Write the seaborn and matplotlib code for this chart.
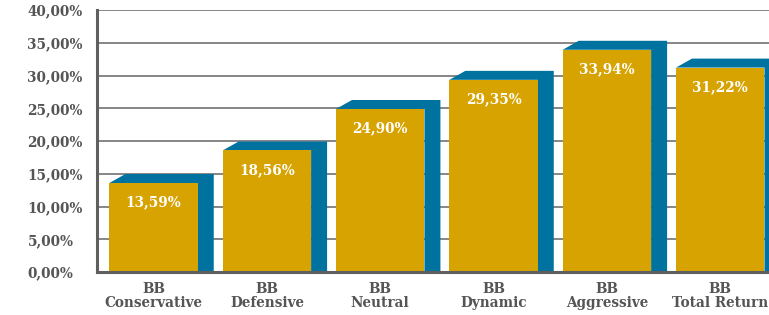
import matplotlib
matplotlib.use("Agg")
import matplotlib.pyplot as plt
from matplotlib.patches import Polygon
from matplotlib.ticker import FuncFormatter, MultipleLocator
import seaborn as sns
import pandas as pd

categories = ["BB\nConservative", "BB\nDefensive", "BB\nNeutral",
              "BB\nDynamic", "BB\nAggressive", "BB\nTotal Return"]
values = [13.59, 18.56, 24.90, 29.35, 33.94, 31.22]

GOLD = "#D6A300"
BLUE = "#00729F"
GRAY = "#555555"

sns.set_theme(style="white")
plt.rcParams["font.family"] = ["DejaVu Serif"]
plt.rcParams["font.weight"] = "bold"

df = pd.DataFrame({"cat": categories, "val": values})

fig = plt.figure(figsize=(7.69, 3.15), dpi=100)
ax = fig.add_axes([0.126, 0.1365, 0.874, 0.8315])

sns.barplot(data=df, x="cat", y="val", color=GOLD, saturation=1, width=0.78,
            ax=ax, zorder=3)

dx, dy = 0.141, 1.37
for p, v in zip(ax.patches, values):
    x0 = p.get_x()
    x1 = x0 + p.get_width()
    h = p.get_height()
    p.set_edgecolor("none")
    poly = Polygon([(x0, h), (x0 + dx, h + dy), (x1 + dx, h + dy),
                    (x1 + dx, 0), (x1, 0), (x1, h)],
                   closed=True, facecolor=BLUE, edgecolor="none", zorder=2)
    ax.add_patch(poly)
    ax.text(x0 + p.get_width() / 2, h - 3.0, f"{v:.2f}%".replace(".", ","),
            ha="center", va="center", color="white", fontsize=9.8,
            fontweight="bold", zorder=4)

ax.set_xlim(-0.5, 5.43)
ax.set_ylim(0, 40)
ax.yaxis.set_major_locator(MultipleLocator(5))
ax.yaxis.set_major_formatter(FuncFormatter(lambda y, _: f"{y:.2f}%".replace(".", ",")))
ax.set_axisbelow(True)
ax.grid(axis="y", color="#666666", linewidth=1.1, zorder=0)
ax.grid(axis="x", visible=False)

for s in ["top", "right"]:
    ax.spines[s].set_visible(False)
for s in ["left", "bottom"]:
    ax.spines[s].set_color("#5f5f5f")
    ax.spines[s].set_linewidth(2.2)
    ax.spines[s].set_zorder(5)

ax.tick_params(axis="both", length=0, colors=GRAY, labelsize=9.8)
ax.tick_params(axis="y", pad=50)
ax.tick_params(axis="x", pad=7)
for lab in ax.get_yticklabels():
    lab.set_fontweight("bold")
    lab.set_color(GRAY)
    lab.set_horizontalalignment("left")
for lab in ax.get_xticklabels():
    lab.set_fontweight("bold")
    lab.set_color(GRAY)
    lab.set_linespacing(1.0)
ax.set_xlabel("")
ax.set_ylabel("")

fig.savefig("out.png", dpi=100)
